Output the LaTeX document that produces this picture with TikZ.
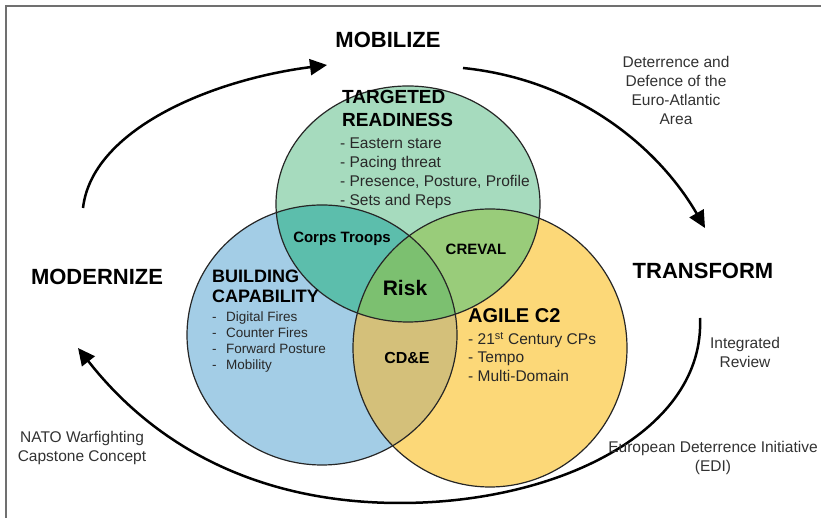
\documentclass[tikz,border=0pt]{standalone}
\usepackage{fontspec}
\setmainfont{Liberation Sans}
\usetikzlibrary{arrows.meta}
\definecolor{greenc}{RGB}{166,219,190}
\definecolor{bluec}{RGB}{163,205,230}
\definecolor{yellowc}{RGB}{252,216,120}
\definecolor{gbc}{RGB}{92,190,172}
\definecolor{gyc}{RGB}{153,204,122}
\definecolor{byc}{RGB}{212,192,122}
\definecolor{allc}{RGB}{124,192,112}
\definecolor{framec}{RGB}{112,112,112}
\definecolor{textc}{RGB}{40,40,40}
\definecolor{labelc}{RGB}{50,50,50}
\tikzset{
  big/.style={font=\fontsize{22}{26}\selectfont\bfseries, inner sep=0pt, anchor=base},
  ttl/.style={font=\fontsize{19}{23}\selectfont\bfseries, inner sep=0pt, anchor=north west, align=left},
  blist/.style={font=\fontsize{15.5}{19}\selectfont, text=textc, inner sep=0pt, anchor=north west, align=left},
  zone/.style={font=\fontsize{15}{18}\selectfont\bfseries, inner sep=0pt, anchor=base},
  side/.style={font=\fontsize{15.5}{19}\selectfont, text=labelc, inner sep=0pt, anchor=north, align=center},
  cyc/.style={line width=2.5pt, -{Triangle[length=17pt,width=16pt]}},
  ring/.style={draw=black!85, line width=1.2pt},
}
\begin{document}
\begin{tikzpicture}[x=1pt,y=1pt]
\useasboundingbox (0,0) rectangle (821,518);
\draw[framec, line width=1.6pt] (6,-10) -- (6,512) -- (840,512);
% circles
\def\GC{(408,314) ellipse [x radius=132, y radius=118]}
\def\BC{(322,183) ellipse [x radius=135, y radius=130]}
\def\YC{(490,170) ellipse [x radius=137, y radius=139]}
\fill[bluec] \BC;
\fill[yellowc] \YC;
\fill[greenc] \GC;
\begin{scope}\clip \BC; \fill[gbc] \GC; \end{scope}
\begin{scope}\clip \YC; \fill[gyc] \GC; \end{scope}
\begin{scope}\clip \BC; \fill[byc] \YC; \end{scope}
\begin{scope}\clip \BC; \clip \YC; \fill[allc] \GC; \end{scope}
\draw[ring] \BC;
\draw[ring] \YC;
\draw[ring] \GC;
% cycle labels
\node[big] (mob) at (388,470) {MOBILIZE};
\node[big] (mod) at (97,233) {MODERNIZE};
\node[big] (tra) at (703,239) {TRANSFORM};
% cycle arrows
\coordinate (s1) at (83,310);
\coordinate (e1) at (327,453);
\coordinate (s2) at (463,450);
\coordinate (e2) at (705,290);
\coordinate (s3) at (700,200);
\coordinate (m3) at (400,15);
\coordinate (e3) at (78,170);
\draw[cyc] (s1) .. controls (92,388) and (210,438) .. (e1);
\draw[cyc] (s2) .. controls (580,438) and (660,368) .. (e2);
\draw[cyc] (s3) .. controls (705,88) and (560,15) .. (m3) .. controls (250,15) and (150,78) .. (e3);
% circle texts
\node[ttl] (trt) at (342,427.6) {TARGETED\\READINESS};
\node[blist] (trl) at (340,380.6) {- Eastern stare\\- Pacing threat\\- Presence, Posture, Profile\\- Sets and Reps};
\node[ttl, font=\fontsize{18}{20}\selectfont\bfseries] (bct) at (212,248.4) {BUILDING\\CAPABILITY};
\node[blist, font=\fontsize{13.5}{16}\selectfont] (bcl) at (212,206.7) {\makebox[14pt][l]{-}Digital Fires\\\makebox[14pt][l]{-}Counter Fires\\\makebox[14pt][l]{-}Forward Posture\\\makebox[14pt][l]{-}Mobility};
\node[ttl, font=\fontsize{20}{24}\selectfont\bfseries, anchor=base west] (agt) at (468,195) {AGILE C2};
\node[blist, font=\fontsize{15.5}{18.5}\selectfont] (agl) at (468,186) {- 21\textsuperscript{st} Century CPs\\- Tempo\\- Multi-Domain};
\node[zone] (corps) at (342,275.5) {Corps Troops};
\node[zone] (creval) at (476,263.5) {CREVAL};
\node[zone, font=\fontsize{21}{24}\selectfont\bfseries] (risk) at (405,222.5) {Risk};
\node[zone, font=\fontsize{16}{19}\selectfont\bfseries] (cde) at (407,154) {CD\&E};
% side texts
\node[side] (ddea) at (676,462) {Deterrence and\\Defence of the\\Euro-Atlantic\\Area};
\node[side] (ir) at (745,181) {Integrated\\Review};
\node[side] (edi) at (713,77) {European Deterrence Initiative\\(EDI)};
\node[side] (nato) at (82,87) {NATO Warfighting\\Capstone Concept};
\end{tikzpicture}
\end{document}
